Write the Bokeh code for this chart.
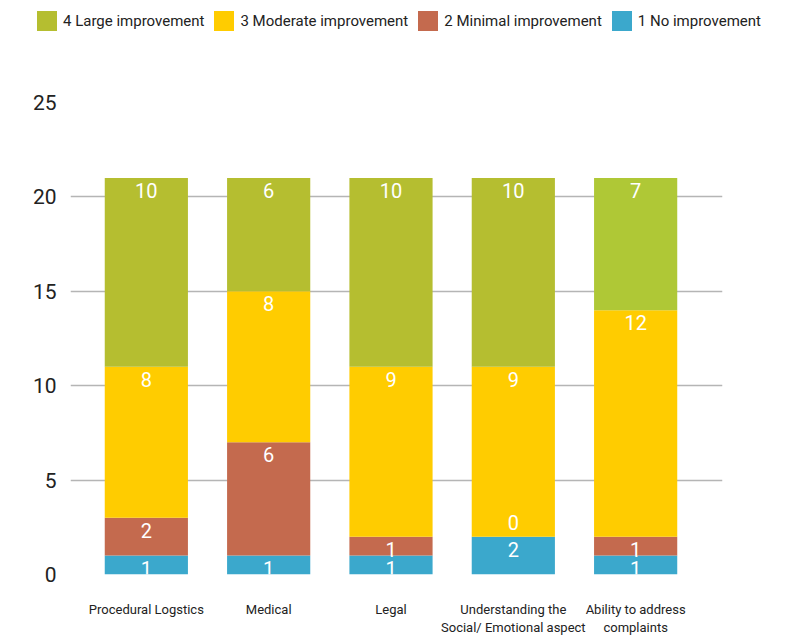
from bokeh.plotting import figure
from bokeh.layouts import column, row
from bokeh.models import ColumnDataSource, Range1d, FixedTicker, Legend, LegendItem
from bokeh.core.properties import value
from bokeh.embed import file_html
from bokeh.resources import INLINE

categories = ["Procedural Logstics", "Medical", "Legal",
              "Understanding the\nSocial/ Emotional aspect",
              "Ability to address\ncomplaints"]
no_improvement = [1, 1, 1, 2, 1]
minimal_improvement = [2, 6, 1, 0, 1]
moderate_improvement = [8, 8, 9, 9, 12]
large_improvement = [10, 6, 10, 10, 7]
series_names = ["1 No improvement", "2 Minimal improvement",
                "3 Moderate improvement", "4 Large improvement"]
series_values = [no_improvement, minimal_improvement, moderate_improvement, large_improvement]
series_colors = ["#3ba8cc", "#c46a4e", "#ffcc00", "#b5be30"]
last_large_color = "#afc836"
y_ticks = [0, 5, 10, 15, 20, 25]

FONT = "Roboto"
TEXT_COLOR = "#222222"

# ---------- main chart ----------
p = figure(width=789, height=600, output_backend="svg", toolbar_location=None,
           x_range=Range1d(-0.62, 4.71), y_range=Range1d(0, 25),
           min_border_left=70, min_border_right=67, min_border_bottom=70,
           min_border_top=58)
p.outline_line_color = None
p.background_fill_color = "white"
p.border_fill_color = "white"

xs = list(range(len(categories)))
bottoms = [0] * len(categories)
sources = []
for si, (name, vals, col) in enumerate(zip(series_names, series_values, series_colors)):
    tops = [b + v for b, v in zip(bottoms, vals)]
    colors = [col] * len(vals)
    if si == 3:
        colors[-1] = last_large_color
    src = ColumnDataSource(dict(
        x=xs, bottom=bottoms, top=tops, color=colors,
        label=[str(v) for v in vals],
        baseline=["bottom" if v == 0 else "top" for v in vals],
        off=[-7 if v == 0 else 5 for v in vals]))
    p.vbar(x="x", bottom="bottom", top="top", width=0.68, fill_color="color",
           line_color=None, source=src)
    sources.append(src)
    bottoms = tops

for src in sources:
    p.text(x="x", y="top", text="label", source=src, text_align="center",
           text_baseline="baseline", y_offset="off", text_color="white",
           text_font=value(FONT), text_font_size="20px")

p.xaxis.ticker = FixedTicker(ticks=xs)
p.xaxis.major_label_overrides = {i: c for i, c in enumerate(categories)}
p.xaxis.axis_line_color = None
p.xaxis.major_tick_line_color = None
p.xaxis.minor_tick_line_color = None
p.xaxis.major_label_text_font = FONT
p.xaxis.major_label_text_font_size = "13px"
p.xaxis.major_label_text_color = TEXT_COLOR
p.xaxis.major_label_standoff = 21
p.xgrid.grid_line_color = None

p.yaxis.ticker = FixedTicker(ticks=y_ticks)
p.yaxis.axis_line_color = None
p.yaxis.major_tick_line_color = None
p.yaxis.minor_tick_line_color = None
p.yaxis.major_label_text_font = FONT
p.yaxis.major_label_text_font_size = "21px"
p.yaxis.major_label_text_color = TEXT_COLOR
p.yaxis.major_label_standoff = 8
p.ygrid.grid_line_color = "#b5b5b5"
p.ygrid.grid_line_width = 1.5

# ---------- legend strip ----------
lg = figure(width=789, height=44, output_backend="svg", toolbar_location=None,
            x_range=Range1d(0, 1), y_range=Range1d(0, 1),
            min_border=0, min_border_left=0, min_border_right=0,
            min_border_top=0, min_border_bottom=0,
            x_axis_type=None, y_axis_type=None)
try:
    lg.frame_align = False
except Exception:
    pass
lg.outline_line_color = None
lg.xgrid.grid_line_color = None
lg.ygrid.grid_line_color = None
swatches = []
for name, vals, col in zip(series_names, series_values, series_colors):
    r = lg.vbar(x=xs, top=vals, width=0.5, fill_color=col, line_color=None)
    r.visible = False
    swatches.append(r)

items = [LegendItem(label=series_names[i], renderers=[swatches[i]])
         for i in [3, 2, 1, 0]]
legend = Legend(items=items, orientation="horizontal", location=(34, 11),
                border_line_color=None, background_fill_alpha=0,
                inactive_fill_alpha=0,
                label_text_font=FONT, label_text_font_size="15px",
                label_text_color=TEXT_COLOR, glyph_width=25, glyph_height=25,
                label_standoff=4, spacing=7, padding=0, margin=0)
lg.add_layout(legend)

layout = column(row(lg), p, spacing=0)
open("out.html", "w").write(file_html(layout, INLINE))
